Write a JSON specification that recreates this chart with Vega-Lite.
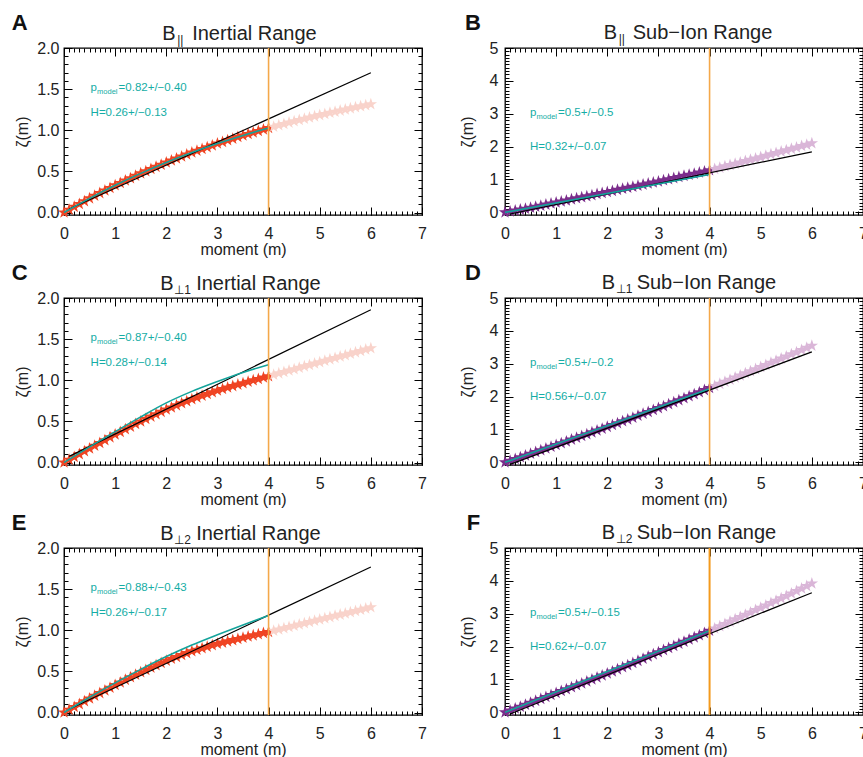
{
"$schema":"https://vega.github.io/schema/vega-lite/v6.json",
"autosize":{"type":"none"},
"padding":{"left":64,"top":48,"right":799,"bottom":709},
"background":"white",
"config":{"view":{"stroke":"#000","strokeWidth":1.3},
"axis":{"domain":false,"grid":false,"labelFont":"Liberation Sans","labelFontSize":16,"labelColor":"#222","titleFont":"Liberation Sans","titleFontSize":16,"titleFontWeight":"normal","titleColor":"#222","tickColor":"#000","tickWidth":1,"labelFlush":false,"labelOverlap":false,"labelBound":false,"zindex":1},
"text":{"font":"Liberation Sans"}},
"datasets":{
"stars":[
{"p":"A","m":0,"z":0},{"p":"A","m":0.1,"z":0.034},{"p":"A","m":0.2,"z":0.069},{"p":"A","m":0.3,"z":0.103},{"p":"A","m":0.4,"z":0.138},
{"p":"A","m":0.5,"z":0.172},{"p":"A","m":0.6,"z":0.204},{"p":"A","m":0.7,"z":0.236},{"p":"A","m":0.8,"z":0.267},{"p":"A","m":0.9,"z":0.299},
{"p":"A","m":1,"z":0.331},{"p":"A","m":1.1,"z":0.36},{"p":"A","m":1.2,"z":0.389},{"p":"A","m":1.3,"z":0.418},{"p":"A","m":1.4,"z":0.447},
{"p":"A","m":1.5,"z":0.476},{"p":"A","m":1.6,"z":0.502},{"p":"A","m":1.7,"z":0.529},{"p":"A","m":1.8,"z":0.555},{"p":"A","m":1.9,"z":0.582},
{"p":"A","m":2,"z":0.608},{"p":"A","m":2.1,"z":0.632},{"p":"A","m":2.2,"z":0.656},{"p":"A","m":2.3,"z":0.681},{"p":"A","m":2.4,"z":0.705},
{"p":"A","m":2.5,"z":0.729},{"p":"A","m":2.6,"z":0.751},{"p":"A","m":2.7,"z":0.773},{"p":"A","m":2.8,"z":0.794},{"p":"A","m":2.9,"z":0.816},
{"p":"A","m":3,"z":0.838},{"p":"A","m":3.1,"z":0.858},{"p":"A","m":3.2,"z":0.878},{"p":"A","m":3.3,"z":0.897},{"p":"A","m":3.4,"z":0.917},
{"p":"A","m":3.5,"z":0.937},{"p":"A","m":3.6,"z":0.955},{"p":"A","m":3.7,"z":0.973},{"p":"A","m":3.8,"z":0.991},{"p":"A","m":3.9,"z":1.009},
{"p":"A","m":4,"z":1.027},{"p":"A","m":4.1,"z":1.043},{"p":"A","m":4.2,"z":1.06},{"p":"A","m":4.3,"z":1.076},{"p":"A","m":4.4,"z":1.093},
{"p":"A","m":4.5,"z":1.109},{"p":"A","m":4.6,"z":1.124},{"p":"A","m":4.7,"z":1.139},{"p":"A","m":4.8,"z":1.154},{"p":"A","m":4.9,"z":1.169},
{"p":"A","m":5,"z":1.184},{"p":"A","m":5.1,"z":1.198},{"p":"A","m":5.2,"z":1.212},{"p":"A","m":5.3,"z":1.225},{"p":"A","m":5.4,"z":1.239},
{"p":"A","m":5.5,"z":1.253},{"p":"A","m":5.6,"z":1.266},{"p":"A","m":5.7,"z":1.279},{"p":"A","m":5.8,"z":1.291},{"p":"A","m":5.9,"z":1.304},
{"p":"A","m":6,"z":1.317},
{"p":"B","m":0,"z":0},{"p":"B","m":0.1,"z":0.028},{"p":"B","m":0.2,"z":0.056},{"p":"B","m":0.3,"z":0.084},{"p":"B","m":0.4,"z":0.112},
{"p":"B","m":0.5,"z":0.14},{"p":"B","m":0.6,"z":0.172},{"p":"B","m":0.7,"z":0.204},{"p":"B","m":0.8,"z":0.236},{"p":"B","m":0.9,"z":0.268},
{"p":"B","m":1,"z":0.3},{"p":"B","m":1.1,"z":0.332},{"p":"B","m":1.2,"z":0.364},{"p":"B","m":1.3,"z":0.396},{"p":"B","m":1.4,"z":0.428},
{"p":"B","m":1.5,"z":0.46},{"p":"B","m":1.6,"z":0.492},{"p":"B","m":1.7,"z":0.524},{"p":"B","m":1.8,"z":0.556},{"p":"B","m":1.9,"z":0.588},
{"p":"B","m":2,"z":0.62},{"p":"B","m":2.1,"z":0.652},{"p":"B","m":2.2,"z":0.684},{"p":"B","m":2.3,"z":0.716},{"p":"B","m":2.4,"z":0.748},
{"p":"B","m":2.5,"z":0.78},{"p":"B","m":2.6,"z":0.812},{"p":"B","m":2.7,"z":0.844},{"p":"B","m":2.8,"z":0.876},{"p":"B","m":2.9,"z":0.908},
{"p":"B","m":3,"z":0.94},{"p":"B","m":3.1,"z":0.974},{"p":"B","m":3.2,"z":1.008},{"p":"B","m":3.3,"z":1.042},{"p":"B","m":3.4,"z":1.076},
{"p":"B","m":3.5,"z":1.11},{"p":"B","m":3.6,"z":1.144},{"p":"B","m":3.7,"z":1.178},{"p":"B","m":3.8,"z":1.212},{"p":"B","m":3.9,"z":1.246},
{"p":"B","m":4,"z":1.28},{"p":"B","m":4.1,"z":1.32},{"p":"B","m":4.2,"z":1.36},{"p":"B","m":4.3,"z":1.4},{"p":"B","m":4.4,"z":1.44},
{"p":"B","m":4.5,"z":1.48},{"p":"B","m":4.6,"z":1.52},{"p":"B","m":4.7,"z":1.56},{"p":"B","m":4.8,"z":1.6},{"p":"B","m":4.9,"z":1.64},
{"p":"B","m":5,"z":1.68},{"p":"B","m":5.1,"z":1.722},{"p":"B","m":5.2,"z":1.764},{"p":"B","m":5.3,"z":1.806},{"p":"B","m":5.4,"z":1.848},
{"p":"B","m":5.5,"z":1.89},{"p":"B","m":5.6,"z":1.932},{"p":"B","m":5.7,"z":1.974},{"p":"B","m":5.8,"z":2.016},{"p":"B","m":5.9,"z":2.058},
{"p":"B","m":6,"z":2.1},
{"p":"C","m":0,"z":0},{"p":"C","m":0.1,"z":0.034},{"p":"C","m":0.2,"z":0.068},{"p":"C","m":0.3,"z":0.102},{"p":"C","m":0.4,"z":0.136},
{"p":"C","m":0.5,"z":0.17},{"p":"C","m":0.6,"z":0.204},{"p":"C","m":0.7,"z":0.238},{"p":"C","m":0.8,"z":0.272},{"p":"C","m":0.9,"z":0.306},
{"p":"C","m":1,"z":0.34},{"p":"C","m":1.1,"z":0.372},{"p":"C","m":1.2,"z":0.404},{"p":"C","m":1.3,"z":0.436},{"p":"C","m":1.4,"z":0.468},
{"p":"C","m":1.5,"z":0.5},{"p":"C","m":1.6,"z":0.529},{"p":"C","m":1.7,"z":0.558},{"p":"C","m":1.8,"z":0.587},{"p":"C","m":1.9,"z":0.616},
{"p":"C","m":2,"z":0.645},{"p":"C","m":2.1,"z":0.67},{"p":"C","m":2.2,"z":0.695},{"p":"C","m":2.3,"z":0.72},{"p":"C","m":2.4,"z":0.745},
{"p":"C","m":2.5,"z":0.77},{"p":"C","m":2.6,"z":0.791},{"p":"C","m":2.7,"z":0.812},{"p":"C","m":2.8,"z":0.833},{"p":"C","m":2.9,"z":0.854},
{"p":"C","m":3,"z":0.875},{"p":"C","m":3.1,"z":0.893},{"p":"C","m":3.2,"z":0.911},{"p":"C","m":3.3,"z":0.929},{"p":"C","m":3.4,"z":0.947},
{"p":"C","m":3.5,"z":0.965},{"p":"C","m":3.6,"z":0.982},{"p":"C","m":3.7,"z":0.999},{"p":"C","m":3.8,"z":1.016},{"p":"C","m":3.9,"z":1.033},
{"p":"C","m":4,"z":1.05},{"p":"C","m":4.1,"z":1.067},{"p":"C","m":4.2,"z":1.084},{"p":"C","m":4.3,"z":1.101},{"p":"C","m":4.4,"z":1.118},
{"p":"C","m":4.5,"z":1.135},{"p":"C","m":4.6,"z":1.152},{"p":"C","m":4.7,"z":1.169},{"p":"C","m":4.8,"z":1.186},{"p":"C","m":4.9,"z":1.203},
{"p":"C","m":5,"z":1.22},{"p":"C","m":5.1,"z":1.237},{"p":"C","m":5.2,"z":1.254},{"p":"C","m":5.3,"z":1.271},{"p":"C","m":5.4,"z":1.288},
{"p":"C","m":5.5,"z":1.305},{"p":"C","m":5.6,"z":1.322},{"p":"C","m":5.7,"z":1.339},{"p":"C","m":5.8,"z":1.356},{"p":"C","m":5.9,"z":1.373},
{"p":"C","m":6,"z":1.39},
{"p":"D","m":0,"z":0},{"p":"D","m":0.1,"z":0.052},{"p":"D","m":0.2,"z":0.104},{"p":"D","m":0.3,"z":0.156},{"p":"D","m":0.4,"z":0.208},
{"p":"D","m":0.5,"z":0.26},{"p":"D","m":0.6,"z":0.314},{"p":"D","m":0.7,"z":0.368},{"p":"D","m":0.8,"z":0.422},{"p":"D","m":0.9,"z":0.476},
{"p":"D","m":1,"z":0.53},{"p":"D","m":1.1,"z":0.584},{"p":"D","m":1.2,"z":0.638},{"p":"D","m":1.3,"z":0.692},{"p":"D","m":1.4,"z":0.746},
{"p":"D","m":1.5,"z":0.8},{"p":"D","m":1.6,"z":0.856},{"p":"D","m":1.7,"z":0.912},{"p":"D","m":1.8,"z":0.968},{"p":"D","m":1.9,"z":1.024},
{"p":"D","m":2,"z":1.08},{"p":"D","m":2.1,"z":1.136},{"p":"D","m":2.2,"z":1.192},{"p":"D","m":2.3,"z":1.248},{"p":"D","m":2.4,"z":1.304},
{"p":"D","m":2.5,"z":1.36},{"p":"D","m":2.6,"z":1.418},{"p":"D","m":2.7,"z":1.476},{"p":"D","m":2.8,"z":1.534},{"p":"D","m":2.9,"z":1.592},
{"p":"D","m":3,"z":1.65},{"p":"D","m":3.1,"z":1.71},{"p":"D","m":3.2,"z":1.77},{"p":"D","m":3.3,"z":1.83},{"p":"D","m":3.4,"z":1.89},
{"p":"D","m":3.5,"z":1.95},{"p":"D","m":3.6,"z":2.012},{"p":"D","m":3.7,"z":2.074},{"p":"D","m":3.8,"z":2.136},{"p":"D","m":3.9,"z":2.198},
{"p":"D","m":4,"z":2.26},{"p":"D","m":4.1,"z":2.324},{"p":"D","m":4.2,"z":2.388},{"p":"D","m":4.3,"z":2.452},{"p":"D","m":4.4,"z":2.516},
{"p":"D","m":4.5,"z":2.58},{"p":"D","m":4.6,"z":2.644},{"p":"D","m":4.7,"z":2.708},{"p":"D","m":4.8,"z":2.772},{"p":"D","m":4.9,"z":2.836},
{"p":"D","m":5,"z":2.9},{"p":"D","m":5.1,"z":2.964},{"p":"D","m":5.2,"z":3.028},{"p":"D","m":5.3,"z":3.092},{"p":"D","m":5.4,"z":3.156},
{"p":"D","m":5.5,"z":3.22},{"p":"D","m":5.6,"z":3.286},{"p":"D","m":5.7,"z":3.352},{"p":"D","m":5.8,"z":3.418},{"p":"D","m":5.9,"z":3.484},
{"p":"D","m":6,"z":3.55},
{"p":"E","m":0,"z":0},{"p":"E","m":0.1,"z":0.034},{"p":"E","m":0.2,"z":0.068},{"p":"E","m":0.3,"z":0.102},{"p":"E","m":0.4,"z":0.136},
{"p":"E","m":0.5,"z":0.17},{"p":"E","m":0.6,"z":0.203},{"p":"E","m":0.7,"z":0.236},{"p":"E","m":0.8,"z":0.269},{"p":"E","m":0.9,"z":0.302},
{"p":"E","m":1,"z":0.335},{"p":"E","m":1.1,"z":0.366},{"p":"E","m":1.2,"z":0.397},{"p":"E","m":1.3,"z":0.428},{"p":"E","m":1.4,"z":0.459},
{"p":"E","m":1.5,"z":0.49},{"p":"E","m":1.6,"z":0.518},{"p":"E","m":1.7,"z":0.546},{"p":"E","m":1.8,"z":0.574},{"p":"E","m":1.9,"z":0.602},
{"p":"E","m":2,"z":0.63},{"p":"E","m":2.1,"z":0.653},{"p":"E","m":2.2,"z":0.676},{"p":"E","m":2.3,"z":0.699},{"p":"E","m":2.4,"z":0.722},
{"p":"E","m":2.5,"z":0.745},{"p":"E","m":2.6,"z":0.763},{"p":"E","m":2.7,"z":0.781},{"p":"E","m":2.8,"z":0.799},{"p":"E","m":2.9,"z":0.817},
{"p":"E","m":3,"z":0.835},{"p":"E","m":3.1,"z":0.85},{"p":"E","m":3.2,"z":0.865},{"p":"E","m":3.3,"z":0.88},{"p":"E","m":3.4,"z":0.895},
{"p":"E","m":3.5,"z":0.91},{"p":"E","m":3.6,"z":0.924},{"p":"E","m":3.7,"z":0.938},{"p":"E","m":3.8,"z":0.952},{"p":"E","m":3.9,"z":0.966},
{"p":"E","m":4,"z":0.98},{"p":"E","m":4.1,"z":0.995},{"p":"E","m":4.2,"z":1.01},{"p":"E","m":4.3,"z":1.025},{"p":"E","m":4.4,"z":1.04},
{"p":"E","m":4.5,"z":1.055},{"p":"E","m":4.6,"z":1.07},{"p":"E","m":4.7,"z":1.085},{"p":"E","m":4.8,"z":1.1},{"p":"E","m":4.9,"z":1.115},
{"p":"E","m":5,"z":1.13},{"p":"E","m":5.1,"z":1.145},{"p":"E","m":5.2,"z":1.16},{"p":"E","m":5.3,"z":1.175},{"p":"E","m":5.4,"z":1.19},
{"p":"E","m":5.5,"z":1.205},{"p":"E","m":5.6,"z":1.22},{"p":"E","m":5.7,"z":1.235},{"p":"E","m":5.8,"z":1.25},{"p":"E","m":5.9,"z":1.265},
{"p":"E","m":6,"z":1.28},
{"p":"F","m":0,"z":0},{"p":"F","m":0.1,"z":0.058},{"p":"F","m":0.2,"z":0.116},{"p":"F","m":0.3,"z":0.174},{"p":"F","m":0.4,"z":0.232},
{"p":"F","m":0.5,"z":0.29},{"p":"F","m":0.6,"z":0.35},{"p":"F","m":0.7,"z":0.41},{"p":"F","m":0.8,"z":0.47},{"p":"F","m":0.9,"z":0.53},
{"p":"F","m":1,"z":0.59},{"p":"F","m":1.1,"z":0.648},{"p":"F","m":1.2,"z":0.706},{"p":"F","m":1.3,"z":0.764},{"p":"F","m":1.4,"z":0.822},
{"p":"F","m":1.5,"z":0.88},{"p":"F","m":1.6,"z":0.94},{"p":"F","m":1.7,"z":1},{"p":"F","m":1.8,"z":1.06},{"p":"F","m":1.9,"z":1.12},
{"p":"F","m":2,"z":1.18},{"p":"F","m":2.1,"z":1.244},{"p":"F","m":2.2,"z":1.308},{"p":"F","m":2.3,"z":1.372},{"p":"F","m":2.4,"z":1.436},
{"p":"F","m":2.5,"z":1.5},{"p":"F","m":2.6,"z":1.566},{"p":"F","m":2.7,"z":1.632},{"p":"F","m":2.8,"z":1.698},{"p":"F","m":2.9,"z":1.764},
{"p":"F","m":3,"z":1.83},{"p":"F","m":3.1,"z":1.894},{"p":"F","m":3.2,"z":1.958},{"p":"F","m":3.3,"z":2.022},{"p":"F","m":3.4,"z":2.086},
{"p":"F","m":3.5,"z":2.15},{"p":"F","m":3.6,"z":2.216},{"p":"F","m":3.7,"z":2.282},{"p":"F","m":3.8,"z":2.348},{"p":"F","m":3.9,"z":2.414},
{"p":"F","m":4,"z":2.48},{"p":"F","m":4.1,"z":2.55},{"p":"F","m":4.2,"z":2.62},{"p":"F","m":4.3,"z":2.69},{"p":"F","m":4.4,"z":2.76},
{"p":"F","m":4.5,"z":2.83},{"p":"F","m":4.6,"z":2.9},{"p":"F","m":4.7,"z":2.97},{"p":"F","m":4.8,"z":3.04},{"p":"F","m":4.9,"z":3.11},
{"p":"F","m":5,"z":3.18},{"p":"F","m":5.1,"z":3.252},{"p":"F","m":5.2,"z":3.324},{"p":"F","m":5.3,"z":3.396},{"p":"F","m":5.4,"z":3.468},
{"p":"F","m":5.5,"z":3.54},{"p":"F","m":5.6,"z":3.616},{"p":"F","m":5.7,"z":3.692},{"p":"F","m":5.8,"z":3.768},{"p":"F","m":5.9,"z":3.844},
{"p":"F","m":6,"z":3.92}
],
"fit":[
{"p":"A","m":0.1,"z":0.042},{"p":"A","m":6,"z":1.7},
{"p":"B","m":0.1,"z":-0.05},{"p":"B","m":6,"z":1.84},
{"p":"C","m":0.1,"z":0.075},{"p":"C","m":6,"z":1.857},
{"p":"D","m":0.1,"z":-0.06},{"p":"D","m":6,"z":3.36},
{"p":"E","m":0.1,"z":0.04},{"p":"E","m":6,"z":1.77},
{"p":"F","m":0.1,"z":-0.05},{"p":"F","m":6,"z":3.64}
],
"model":[
{"p":"A","m":0,"z":0},{"p":"A","m":0.5,"z":0.172},{"p":"A","m":1,"z":0.331},{"p":"A","m":1.5,"z":0.476},{"p":"A","m":2,"z":0.608},{"p":"A","m":2.5,"z":0.729},{"p":"A","m":3,"z":0.838},{"p":"A","m":3.5,"z":0.937},{"p":"A","m":4,"z":1.027},
{"p":"B","m":0,"z":0},{"p":"B","m":4,"z":1.15},
{"p":"C","m":0,"z":0},{"p":"C","m":0.5,"z":0.19},{"p":"C","m":1,"z":0.375},{"p":"C","m":1.5,"z":0.555},{"p":"C","m":2,"z":0.725},{"p":"C","m":2.5,"z":0.865},{"p":"C","m":3,"z":0.985},{"p":"C","m":3.5,"z":1.095},{"p":"C","m":4,"z":1.19},
{"p":"D","m":0,"z":0},{"p":"D","m":4,"z":2.24},
{"p":"E","m":0,"z":0},{"p":"E","m":0.5,"z":0.185},{"p":"E","m":1,"z":0.36},{"p":"E","m":1.5,"z":0.525},{"p":"E","m":2,"z":0.68},{"p":"E","m":2.5,"z":0.82},{"p":"E","m":3,"z":0.945},{"p":"E","m":3.5,"z":1.065},{"p":"E","m":4,"z":1.18},
{"p":"F","m":0,"z":0},{"p":"F","m":4,"z":2.48}
]
},
"columns":2,
"spacing":83,
"bounds":"flush",
"concat":[
{"width":358,"height":167,
"layer":[
{"data":{"name":"stars"},"transform":[{"filter":"datum.p=='A'"}],
"mark":{"type":"point","shape":"M0,-1L0.2245,-0.309L0.951,-0.309L0.363,0.118L0.588,0.809L0,0.382L-0.588,0.809L-0.363,0.118L-0.951,-0.309L-0.2245,-0.309Z","filled":true,"size":170,"opacity":1},
"encoding":{
"x":{"field":"m","type":"quantitative","scale":{"domain":[0,7],"nice":false,"zero":false},"axis":{"orient":"bottom","values":[0,1,2,3,4,5,6,7],"format":"d","ticks":false,"tickSize":0,"labelPadding":10,"title":"moment (m)","titlePadding":0}},
"y":{"field":"z","type":"quantitative","scale":{"domain":[-0.03,2],"nice":false,"zero":false},"axis":{"orient":"left","values":[0,0.5,1,1.5,2],"format":".1f","ticks":false,"tickSize":0,"labelPadding":5,"title":"ζ(m)","titlePadding":6}},
"color":{"condition":{"test":"datum.m <= 4","value":"#ef4423"},"value":"#f9d3cb"}}},
{"data":{"name":"fit"},"transform":[{"filter":"datum.p=='A'"}],
"mark":{"type":"line","color":"#000","strokeWidth":1.2,"clip":true},
"encoding":{"x":{"field":"m","type":"quantitative","axis":{"orient":"bottom","values":[0,1,2,3,4,5,6,7],"labels":false,"tickSize":-8,"title":null}},
"y":{"field":"z","type":"quantitative","axis":{"orient":"left","values":[0,0.5,1,1.5,2],"labels":false,"tickSize":-8,"title":null}}}},
{"data":{"name":"model"},"transform":[{"filter":"datum.p=='A'"}],
"mark":{"type":"line","color":"#14a39b","strokeWidth":1.6,"interpolate":"monotone"},
"encoding":{"x":{"field":"m","type":"quantitative","axis":{"orient":"bottom","tickCount":70,"labels":false,"tickSize":-4,"title":null}},
"y":{"field":"z","type":"quantitative","axis":{"orient":"left","tickCount":20,"labels":false,"tickSize":-4,"title":null}}}},
{"data":{"values":[{}]},"mark":{"type":"rule","color":"#f4a84a","strokeWidth":1.6},"encoding":{"x":{"datum":4,"axis":null}}},
{"data":{"values":[{}]},"mark":{"type":"text","text":"A","fontSize":22,"fontWeight":"bold","align":"left","baseline":"alphabetic","color":"#111"},
"encoding":{"x":{"datum":-1.02,"axis":{"orient":"top","values":[0,1,2,3,4,5,6,7],"labels":false,"tickSize":-8,"title":null}},
"y":{"datum":2.216,"axis":{"orient":"right","values":[0,0.5,1,1.5,2],"labels":false,"tickSize":-8,"title":null}}}},
{"data":{"values":[{}]},"mark":{"type":"text","text":"B","fontSize":20,"align":"left","baseline":"alphabetic","color":"#222"},
"encoding":{"x":{"datum":1.92,"axis":{"orient":"top","tickCount":70,"labels":false,"tickSize":-4,"title":null}},
"y":{"datum":2.1,"axis":{"orient":"right","tickCount":20,"labels":false,"tickSize":-4,"title":null}}}},
{"data":{"values":[{}]},"mark":{"type":"text","text":"||","fontSize":12,"dx":15,"dy":4,"align":"left","baseline":"alphabetic","color":"#222"},"encoding":{"x":{"datum":1.92,"axis":null},"y":{"datum":2.1,"axis":null}}},
{"data":{"values":[{}]},"mark":{"type":"text","text":"Inertial Range","fontSize":20,"dx":30,"align":"left","baseline":"alphabetic","color":"#222"},"encoding":{"x":{"datum":1.92,"axis":null},"y":{"datum":2.1,"axis":null}}},
{"data":{"values":[{}]},"mark":{"type":"text","text":"p","fontSize":11.5,"align":"left","baseline":"alphabetic","color":"#14ada5"},"encoding":{"x":{"datum":0.52,"axis":null},"y":{"datum":1.476,"axis":null}}},
{"data":{"values":[{}]},"mark":{"type":"text","text":"model","fontSize":7.5,"dx":6.5,"dy":2.6,"align":"left","baseline":"alphabetic","color":"#14ada5"},"encoding":{"x":{"datum":0.52,"axis":null},"y":{"datum":1.476,"axis":null}}},
{"data":{"values":[{}]},"mark":{"type":"text","text":"=0.82+/−0.40","fontSize":11.5,"dx":28,"align":"left","baseline":"alphabetic","color":"#14ada5"},"encoding":{"x":{"datum":0.52,"axis":null},"y":{"datum":1.476,"axis":null}}},
{"data":{"values":[{}]},"mark":{"type":"text","text":"H=0.26+/−0.13","fontSize":11.5,"align":"left","baseline":"alphabetic","color":"#14ada5"},"encoding":{"x":{"datum":0.52,"axis":null},"y":{"datum":1.179,"axis":null}}}
],
"resolve":{"axis":{"x":"independent","y":"independent"}}},

{"width":358,"height":167,
"layer":[
{"data":{"name":"stars"},"transform":[{"filter":"datum.p=='B'"}],
"mark":{"type":"point","shape":"M0,-1L0.2245,-0.309L0.951,-0.309L0.363,0.118L0.588,0.809L0,0.382L-0.588,0.809L-0.363,0.118L-0.951,-0.309L-0.2245,-0.309Z","filled":true,"size":170,"opacity":1},
"encoding":{
"x":{"field":"m","type":"quantitative","scale":{"domain":[0,7],"nice":false,"zero":false},"axis":{"orient":"bottom","values":[0,1,2,3,4,5,6,7],"format":"d","ticks":false,"tickSize":0,"labelPadding":10,"title":"moment (m)","titlePadding":0}},
"y":{"field":"z","type":"quantitative","scale":{"domain":[-0.08,5],"nice":false,"zero":false},"axis":{"orient":"left","values":[0,1,2,3,4,5],"format":"d","ticks":false,"tickSize":0,"labelPadding":7,"title":"ζ(m)","titlePadding":14}},
"color":{"condition":{"test":"datum.m <= 4","value":"#7b2d8b"},"value":"#dab6d8"}}},
{"data":{"name":"fit"},"transform":[{"filter":"datum.p=='B'"}],
"mark":{"type":"line","color":"#000","strokeWidth":1.2,"clip":true},
"encoding":{"x":{"field":"m","type":"quantitative","axis":{"orient":"bottom","values":[0,1,2,3,4,5,6,7],"labels":false,"tickSize":-8,"title":null}},
"y":{"field":"z","type":"quantitative","axis":{"orient":"left","values":[0,1,2,3,4,5],"labels":false,"tickSize":-8,"title":null}}}},
{"data":{"name":"model"},"transform":[{"filter":"datum.p=='B'"}],
"mark":{"type":"line","color":"#14a39b","strokeWidth":1.6},
"encoding":{"x":{"field":"m","type":"quantitative","axis":{"orient":"bottom","tickCount":70,"labels":false,"tickSize":-4,"title":null}},
"y":{"field":"z","type":"quantitative","axis":{"orient":"left","tickCount":50,"labels":false,"tickSize":-4,"title":null}}}},
{"data":{"values":[{}]},"mark":{"type":"rule","color":"#f4a84a","strokeWidth":1.6},"encoding":{"x":{"datum":4,"axis":null}}},
{"data":{"values":[{}]},"mark":{"type":"text","text":"B","fontSize":22,"fontWeight":"bold","align":"left","baseline":"alphabetic","color":"#111"},
"encoding":{"x":{"datum":-0.78,"axis":{"orient":"top","values":[0,1,2,3,4,5,6,7],"labels":false,"tickSize":-8,"title":null}},
"y":{"datum":5.54,"axis":{"orient":"right","values":[0,1,2,3,4,5],"labels":false,"tickSize":-8,"title":null}}}},
{"data":{"values":[{}]},"mark":{"type":"text","text":"B","fontSize":20,"align":"left","baseline":"alphabetic","color":"#222"},
"encoding":{"x":{"datum":1.93,"axis":{"orient":"top","tickCount":70,"labels":false,"tickSize":-4,"title":null}},
"y":{"datum":5.26,"axis":{"orient":"right","tickCount":50,"labels":false,"tickSize":-4,"title":null}}}},
{"data":{"values":[{}]},"mark":{"type":"text","text":"||","fontSize":12,"dx":15,"dy":4,"align":"left","baseline":"alphabetic","color":"#222"},"encoding":{"x":{"datum":1.93,"axis":null},"y":{"datum":5.26,"axis":null}}},
{"data":{"values":[{}]},"mark":{"type":"text","text":"Sub−Ion Range","fontSize":20,"dx":29,"align":"left","baseline":"alphabetic","color":"#222"},"encoding":{"x":{"datum":1.93,"axis":null},"y":{"datum":5.26,"axis":null}}},
{"data":{"values":[{}]},"mark":{"type":"text","text":"p","fontSize":11.5,"align":"left","baseline":"alphabetic","color":"#14ada5"},"encoding":{"x":{"datum":0.49,"axis":null},"y":{"datum":2.92,"axis":null}}},
{"data":{"values":[{}]},"mark":{"type":"text","text":"model","fontSize":7.5,"dx":6.5,"dy":2.6,"align":"left","baseline":"alphabetic","color":"#14ada5"},"encoding":{"x":{"datum":0.49,"axis":null},"y":{"datum":2.92,"axis":null}}},
{"data":{"values":[{}]},"mark":{"type":"text","text":"=0.5+/−0.5","fontSize":11.5,"dx":28,"align":"left","baseline":"alphabetic","color":"#14ada5"},"encoding":{"x":{"datum":0.49,"axis":null},"y":{"datum":2.92,"axis":null}}},
{"data":{"values":[{}]},"mark":{"type":"text","text":"H=0.32+/−0.07","fontSize":11.5,"align":"left","baseline":"alphabetic","color":"#14ada5"},"encoding":{"x":{"datum":0.49,"axis":null},"y":{"datum":1.91,"axis":null}}}
],
"resolve":{"axis":{"x":"independent","y":"independent"}}},

{"width":358,"height":167,
"layer":[
{"data":{"name":"stars"},"transform":[{"filter":"datum.p=='C'"}],
"mark":{"type":"point","shape":"M0,-1L0.2245,-0.309L0.951,-0.309L0.363,0.118L0.588,0.809L0,0.382L-0.588,0.809L-0.363,0.118L-0.951,-0.309L-0.2245,-0.309Z","filled":true,"size":170,"opacity":1},
"encoding":{
"x":{"field":"m","type":"quantitative","scale":{"domain":[0,7],"nice":false,"zero":false},"axis":{"orient":"bottom","values":[0,1,2,3,4,5,6,7],"format":"d","ticks":false,"tickSize":0,"labelPadding":10,"title":"moment (m)","titlePadding":0}},
"y":{"field":"z","type":"quantitative","scale":{"domain":[-0.03,2],"nice":false,"zero":false},"axis":{"orient":"left","values":[0,0.5,1,1.5,2],"format":".1f","ticks":false,"tickSize":0,"labelPadding":5,"title":"ζ(m)","titlePadding":6}},
"color":{"condition":{"test":"datum.m <= 4","value":"#ef4423"},"value":"#f9d3cb"}}},
{"data":{"name":"fit"},"transform":[{"filter":"datum.p=='C'"}],
"mark":{"type":"line","color":"#000","strokeWidth":1.2,"clip":true},
"encoding":{"x":{"field":"m","type":"quantitative","axis":{"orient":"bottom","values":[0,1,2,3,4,5,6,7],"labels":false,"tickSize":-8,"title":null}},
"y":{"field":"z","type":"quantitative","axis":{"orient":"left","values":[0,0.5,1,1.5,2],"labels":false,"tickSize":-8,"title":null}}}},
{"data":{"name":"model"},"transform":[{"filter":"datum.p=='C'"}],
"mark":{"type":"line","color":"#14a39b","strokeWidth":1.6,"interpolate":"monotone"},
"encoding":{"x":{"field":"m","type":"quantitative","axis":{"orient":"bottom","tickCount":70,"labels":false,"tickSize":-4,"title":null}},
"y":{"field":"z","type":"quantitative","axis":{"orient":"left","tickCount":20,"labels":false,"tickSize":-4,"title":null}}}},
{"data":{"values":[{}]},"mark":{"type":"rule","color":"#f4a84a","strokeWidth":1.6},"encoding":{"x":{"datum":4,"axis":null}}},
{"data":{"values":[{}]},"mark":{"type":"text","text":"C","fontSize":22,"fontWeight":"bold","align":"left","baseline":"alphabetic","color":"#111"},
"encoding":{"x":{"datum":-1.02,"axis":{"orient":"top","values":[0,1,2,3,4,5,6,7],"labels":false,"tickSize":-8,"title":null}},
"y":{"datum":2.216,"axis":{"orient":"right","values":[0,0.5,1,1.5,2],"labels":false,"tickSize":-8,"title":null}}}},
{"data":{"values":[{}]},"mark":{"type":"text","text":"B","fontSize":20,"align":"left","baseline":"alphabetic","color":"#222"},
"encoding":{"x":{"datum":1.88,"axis":{"orient":"top","tickCount":70,"labels":false,"tickSize":-4,"title":null}},
"y":{"datum":2.1,"axis":{"orient":"right","tickCount":20,"labels":false,"tickSize":-4,"title":null}}}},
{"data":{"values":[{}]},"mark":{"type":"text","text":"⊥1","fontSize":12,"dx":14,"dy":4,"align":"left","baseline":"alphabetic","color":"#222"},"encoding":{"x":{"datum":1.88,"axis":null},"y":{"datum":2.1,"axis":null}}},
{"data":{"values":[{}]},"mark":{"type":"text","text":"Inertial Range","fontSize":20,"dx":36,"align":"left","baseline":"alphabetic","color":"#222"},"encoding":{"x":{"datum":1.88,"axis":null},"y":{"datum":2.1,"axis":null}}},
{"data":{"values":[{}]},"mark":{"type":"text","text":"p","fontSize":11.5,"align":"left","baseline":"alphabetic","color":"#14ada5"},"encoding":{"x":{"datum":0.52,"axis":null},"y":{"datum":1.476,"axis":null}}},
{"data":{"values":[{}]},"mark":{"type":"text","text":"model","fontSize":7.5,"dx":6.5,"dy":2.6,"align":"left","baseline":"alphabetic","color":"#14ada5"},"encoding":{"x":{"datum":0.52,"axis":null},"y":{"datum":1.476,"axis":null}}},
{"data":{"values":[{}]},"mark":{"type":"text","text":"=0.87+/−0.40","fontSize":11.5,"dx":28,"align":"left","baseline":"alphabetic","color":"#14ada5"},"encoding":{"x":{"datum":0.52,"axis":null},"y":{"datum":1.476,"axis":null}}},
{"data":{"values":[{}]},"mark":{"type":"text","text":"H=0.28+/−0.14","fontSize":11.5,"align":"left","baseline":"alphabetic","color":"#14ada5"},"encoding":{"x":{"datum":0.52,"axis":null},"y":{"datum":1.179,"axis":null}}}
],
"resolve":{"axis":{"x":"independent","y":"independent"}}},

{"width":358,"height":167,
"layer":[
{"data":{"name":"stars"},"transform":[{"filter":"datum.p=='D'"}],
"mark":{"type":"point","shape":"M0,-1L0.2245,-0.309L0.951,-0.309L0.363,0.118L0.588,0.809L0,0.382L-0.588,0.809L-0.363,0.118L-0.951,-0.309L-0.2245,-0.309Z","filled":true,"size":170,"opacity":1},
"encoding":{
"x":{"field":"m","type":"quantitative","scale":{"domain":[0,7],"nice":false,"zero":false},"axis":{"orient":"bottom","values":[0,1,2,3,4,5,6,7],"format":"d","ticks":false,"tickSize":0,"labelPadding":10,"title":"moment (m)","titlePadding":0}},
"y":{"field":"z","type":"quantitative","scale":{"domain":[-0.08,5],"nice":false,"zero":false},"axis":{"orient":"left","values":[0,1,2,3,4,5],"format":"d","ticks":false,"tickSize":0,"labelPadding":7,"title":"ζ(m)","titlePadding":14}},
"color":{"condition":{"test":"datum.m <= 4","value":"#7b2d8b"},"value":"#dab6d8"}}},
{"data":{"name":"fit"},"transform":[{"filter":"datum.p=='D'"}],
"mark":{"type":"line","color":"#000","strokeWidth":1.2,"clip":true},
"encoding":{"x":{"field":"m","type":"quantitative","axis":{"orient":"bottom","values":[0,1,2,3,4,5,6,7],"labels":false,"tickSize":-8,"title":null}},
"y":{"field":"z","type":"quantitative","axis":{"orient":"left","values":[0,1,2,3,4,5],"labels":false,"tickSize":-8,"title":null}}}},
{"data":{"name":"model"},"transform":[{"filter":"datum.p=='D'"}],
"mark":{"type":"line","color":"#14a39b","strokeWidth":1.6},
"encoding":{"x":{"field":"m","type":"quantitative","axis":{"orient":"bottom","tickCount":70,"labels":false,"tickSize":-4,"title":null}},
"y":{"field":"z","type":"quantitative","axis":{"orient":"left","tickCount":50,"labels":false,"tickSize":-4,"title":null}}}},
{"data":{"values":[{}]},"mark":{"type":"rule","color":"#f4a84a","strokeWidth":1.6},"encoding":{"x":{"datum":4,"axis":null}}},
{"data":{"values":[{}]},"mark":{"type":"text","text":"D","fontSize":22,"fontWeight":"bold","align":"left","baseline":"alphabetic","color":"#111"},
"encoding":{"x":{"datum":-0.78,"axis":{"orient":"top","values":[0,1,2,3,4,5,6,7],"labels":false,"tickSize":-8,"title":null}},
"y":{"datum":5.54,"axis":{"orient":"right","values":[0,1,2,3,4,5],"labels":false,"tickSize":-8,"title":null}}}},
{"data":{"values":[{}]},"mark":{"type":"text","text":"B","fontSize":20,"align":"left","baseline":"alphabetic","color":"#222"},
"encoding":{"x":{"datum":1.89,"axis":{"orient":"top","tickCount":70,"labels":false,"tickSize":-4,"title":null}},
"y":{"datum":5.26,"axis":{"orient":"right","tickCount":50,"labels":false,"tickSize":-4,"title":null}}}},
{"data":{"values":[{}]},"mark":{"type":"text","text":"⊥1","fontSize":12,"dx":14,"dy":4,"align":"left","baseline":"alphabetic","color":"#222"},"encoding":{"x":{"datum":1.89,"axis":null},"y":{"datum":5.26,"axis":null}}},
{"data":{"values":[{}]},"mark":{"type":"text","text":"Sub−Ion Range","fontSize":20,"dx":35,"align":"left","baseline":"alphabetic","color":"#222"},"encoding":{"x":{"datum":1.89,"axis":null},"y":{"datum":5.26,"axis":null}}},
{"data":{"values":[{}]},"mark":{"type":"text","text":"p","fontSize":11.5,"align":"left","baseline":"alphabetic","color":"#14ada5"},"encoding":{"x":{"datum":0.49,"axis":null},"y":{"datum":2.92,"axis":null}}},
{"data":{"values":[{}]},"mark":{"type":"text","text":"model","fontSize":7.5,"dx":6.5,"dy":2.6,"align":"left","baseline":"alphabetic","color":"#14ada5"},"encoding":{"x":{"datum":0.49,"axis":null},"y":{"datum":2.92,"axis":null}}},
{"data":{"values":[{}]},"mark":{"type":"text","text":"=0.5+/−0.2","fontSize":11.5,"dx":28,"align":"left","baseline":"alphabetic","color":"#14ada5"},"encoding":{"x":{"datum":0.49,"axis":null},"y":{"datum":2.92,"axis":null}}},
{"data":{"values":[{}]},"mark":{"type":"text","text":"H=0.56+/−0.07","fontSize":11.5,"align":"left","baseline":"alphabetic","color":"#14ada5"},"encoding":{"x":{"datum":0.49,"axis":null},"y":{"datum":1.91,"axis":null}}}
],
"resolve":{"axis":{"x":"independent","y":"independent"}}},

{"width":358,"height":167,
"layer":[
{"data":{"name":"stars"},"transform":[{"filter":"datum.p=='E'"}],
"mark":{"type":"point","shape":"M0,-1L0.2245,-0.309L0.951,-0.309L0.363,0.118L0.588,0.809L0,0.382L-0.588,0.809L-0.363,0.118L-0.951,-0.309L-0.2245,-0.309Z","filled":true,"size":170,"opacity":1},
"encoding":{
"x":{"field":"m","type":"quantitative","scale":{"domain":[0,7],"nice":false,"zero":false},"axis":{"orient":"bottom","values":[0,1,2,3,4,5,6,7],"format":"d","ticks":false,"tickSize":0,"labelPadding":10,"title":"moment (m)","titlePadding":0}},
"y":{"field":"z","type":"quantitative","scale":{"domain":[-0.03,2],"nice":false,"zero":false},"axis":{"orient":"left","values":[0,0.5,1,1.5,2],"format":".1f","ticks":false,"tickSize":0,"labelPadding":5,"title":"ζ(m)","titlePadding":6}},
"color":{"condition":{"test":"datum.m <= 4","value":"#ef4423"},"value":"#f9d3cb"}}},
{"data":{"name":"fit"},"transform":[{"filter":"datum.p=='E'"}],
"mark":{"type":"line","color":"#000","strokeWidth":1.2,"clip":true},
"encoding":{"x":{"field":"m","type":"quantitative","axis":{"orient":"bottom","values":[0,1,2,3,4,5,6,7],"labels":false,"tickSize":-8,"title":null}},
"y":{"field":"z","type":"quantitative","axis":{"orient":"left","values":[0,0.5,1,1.5,2],"labels":false,"tickSize":-8,"title":null}}}},
{"data":{"name":"model"},"transform":[{"filter":"datum.p=='E'"}],
"mark":{"type":"line","color":"#14a39b","strokeWidth":1.6,"interpolate":"monotone"},
"encoding":{"x":{"field":"m","type":"quantitative","axis":{"orient":"bottom","tickCount":70,"labels":false,"tickSize":-4,"title":null}},
"y":{"field":"z","type":"quantitative","axis":{"orient":"left","tickCount":20,"labels":false,"tickSize":-4,"title":null}}}},
{"data":{"values":[{}]},"mark":{"type":"rule","color":"#f4a84a","strokeWidth":1.6},"encoding":{"x":{"datum":4,"axis":null}}},
{"data":{"values":[{}]},"mark":{"type":"text","text":"E","fontSize":22,"fontWeight":"bold","align":"left","baseline":"alphabetic","color":"#111"},
"encoding":{"x":{"datum":-1.02,"axis":{"orient":"top","values":[0,1,2,3,4,5,6,7],"labels":false,"tickSize":-8,"title":null}},
"y":{"datum":2.216,"axis":{"orient":"right","values":[0,0.5,1,1.5,2],"labels":false,"tickSize":-8,"title":null}}}},
{"data":{"values":[{}]},"mark":{"type":"text","text":"B","fontSize":20,"align":"left","baseline":"alphabetic","color":"#222"},
"encoding":{"x":{"datum":1.88,"axis":{"orient":"top","tickCount":70,"labels":false,"tickSize":-4,"title":null}},
"y":{"datum":2.1,"axis":{"orient":"right","tickCount":20,"labels":false,"tickSize":-4,"title":null}}}},
{"data":{"values":[{}]},"mark":{"type":"text","text":"⊥2","fontSize":12,"dx":14,"dy":4,"align":"left","baseline":"alphabetic","color":"#222"},"encoding":{"x":{"datum":1.88,"axis":null},"y":{"datum":2.1,"axis":null}}},
{"data":{"values":[{}]},"mark":{"type":"text","text":"Inertial Range","fontSize":20,"dx":36,"align":"left","baseline":"alphabetic","color":"#222"},"encoding":{"x":{"datum":1.88,"axis":null},"y":{"datum":2.1,"axis":null}}},
{"data":{"values":[{}]},"mark":{"type":"text","text":"p","fontSize":11.5,"align":"left","baseline":"alphabetic","color":"#14ada5"},"encoding":{"x":{"datum":0.52,"axis":null},"y":{"datum":1.476,"axis":null}}},
{"data":{"values":[{}]},"mark":{"type":"text","text":"model","fontSize":7.5,"dx":6.5,"dy":2.6,"align":"left","baseline":"alphabetic","color":"#14ada5"},"encoding":{"x":{"datum":0.52,"axis":null},"y":{"datum":1.476,"axis":null}}},
{"data":{"values":[{}]},"mark":{"type":"text","text":"=0.88+/−0.43","fontSize":11.5,"dx":28,"align":"left","baseline":"alphabetic","color":"#14ada5"},"encoding":{"x":{"datum":0.52,"axis":null},"y":{"datum":1.476,"axis":null}}},
{"data":{"values":[{}]},"mark":{"type":"text","text":"H=0.26+/−0.17","fontSize":11.5,"align":"left","baseline":"alphabetic","color":"#14ada5"},"encoding":{"x":{"datum":0.52,"axis":null},"y":{"datum":1.179,"axis":null}}}
],
"resolve":{"axis":{"x":"independent","y":"independent"}}},

{"width":358,"height":167,
"layer":[
{"data":{"name":"stars"},"transform":[{"filter":"datum.p=='F'"}],
"mark":{"type":"point","shape":"M0,-1L0.2245,-0.309L0.951,-0.309L0.363,0.118L0.588,0.809L0,0.382L-0.588,0.809L-0.363,0.118L-0.951,-0.309L-0.2245,-0.309Z","filled":true,"size":170,"opacity":1},
"encoding":{
"x":{"field":"m","type":"quantitative","scale":{"domain":[0,7],"nice":false,"zero":false},"axis":{"orient":"bottom","values":[0,1,2,3,4,5,6,7],"format":"d","ticks":false,"tickSize":0,"labelPadding":10,"title":"moment (m)","titlePadding":0}},
"y":{"field":"z","type":"quantitative","scale":{"domain":[-0.08,5],"nice":false,"zero":false},"axis":{"orient":"left","values":[0,1,2,3,4,5],"format":"d","ticks":false,"tickSize":0,"labelPadding":7,"title":"ζ(m)","titlePadding":14}},
"color":{"condition":{"test":"datum.m <= 4","value":"#7b2d8b"},"value":"#dab6d8"}}},
{"data":{"name":"fit"},"transform":[{"filter":"datum.p=='F'"}],
"mark":{"type":"line","color":"#000","strokeWidth":1.2,"clip":true},
"encoding":{"x":{"field":"m","type":"quantitative","axis":{"orient":"bottom","values":[0,1,2,3,4,5,6,7],"labels":false,"tickSize":-8,"title":null}},
"y":{"field":"z","type":"quantitative","axis":{"orient":"left","values":[0,1,2,3,4,5],"labels":false,"tickSize":-8,"title":null}}}},
{"data":{"name":"model"},"transform":[{"filter":"datum.p=='F'"}],
"mark":{"type":"line","color":"#14a39b","strokeWidth":1.6},
"encoding":{"x":{"field":"m","type":"quantitative","axis":{"orient":"bottom","tickCount":70,"labels":false,"tickSize":-4,"title":null}},
"y":{"field":"z","type":"quantitative","axis":{"orient":"left","tickCount":50,"labels":false,"tickSize":-4,"title":null}}}},
{"data":{"values":[{}]},"mark":{"type":"rule","color":"#f39a1e","strokeWidth":2},"encoding":{"x":{"datum":4,"axis":null}}},
{"data":{"values":[{}]},"mark":{"type":"text","text":"F","fontSize":22,"fontWeight":"bold","align":"left","baseline":"alphabetic","color":"#111"},
"encoding":{"x":{"datum":-0.75,"axis":{"orient":"top","values":[0,1,2,3,4,5,6,7],"labels":false,"tickSize":-8,"title":null}},
"y":{"datum":5.54,"axis":{"orient":"right","values":[0,1,2,3,4,5],"labels":false,"tickSize":-8,"title":null}}}},
{"data":{"values":[{}]},"mark":{"type":"text","text":"B","fontSize":20,"align":"left","baseline":"alphabetic","color":"#222"},
"encoding":{"x":{"datum":1.89,"axis":{"orient":"top","tickCount":70,"labels":false,"tickSize":-4,"title":null}},
"y":{"datum":5.26,"axis":{"orient":"right","tickCount":50,"labels":false,"tickSize":-4,"title":null}}}},
{"data":{"values":[{}]},"mark":{"type":"text","text":"⊥2","fontSize":12,"dx":14,"dy":4,"align":"left","baseline":"alphabetic","color":"#222"},"encoding":{"x":{"datum":1.89,"axis":null},"y":{"datum":5.26,"axis":null}}},
{"data":{"values":[{}]},"mark":{"type":"text","text":"Sub−Ion Range","fontSize":20,"dx":35,"align":"left","baseline":"alphabetic","color":"#222"},"encoding":{"x":{"datum":1.89,"axis":null},"y":{"datum":5.26,"axis":null}}},
{"data":{"values":[{}]},"mark":{"type":"text","text":"p","fontSize":11.5,"align":"left","baseline":"alphabetic","color":"#14ada5"},"encoding":{"x":{"datum":0.49,"axis":null},"y":{"datum":2.92,"axis":null}}},
{"data":{"values":[{}]},"mark":{"type":"text","text":"model","fontSize":7.5,"dx":6.5,"dy":2.6,"align":"left","baseline":"alphabetic","color":"#14ada5"},"encoding":{"x":{"datum":0.49,"axis":null},"y":{"datum":2.92,"axis":null}}},
{"data":{"values":[{}]},"mark":{"type":"text","text":"=0.5+/−0.15","fontSize":11.5,"dx":28,"align":"left","baseline":"alphabetic","color":"#14ada5"},"encoding":{"x":{"datum":0.49,"axis":null},"y":{"datum":2.92,"axis":null}}},
{"data":{"values":[{}]},"mark":{"type":"text","text":"H=0.62+/−0.07","fontSize":11.5,"align":"left","baseline":"alphabetic","color":"#14ada5"},"encoding":{"x":{"datum":0.49,"axis":null},"y":{"datum":1.91,"axis":null}}}
],
"resolve":{"axis":{"x":"independent","y":"independent"}}}
]
}
